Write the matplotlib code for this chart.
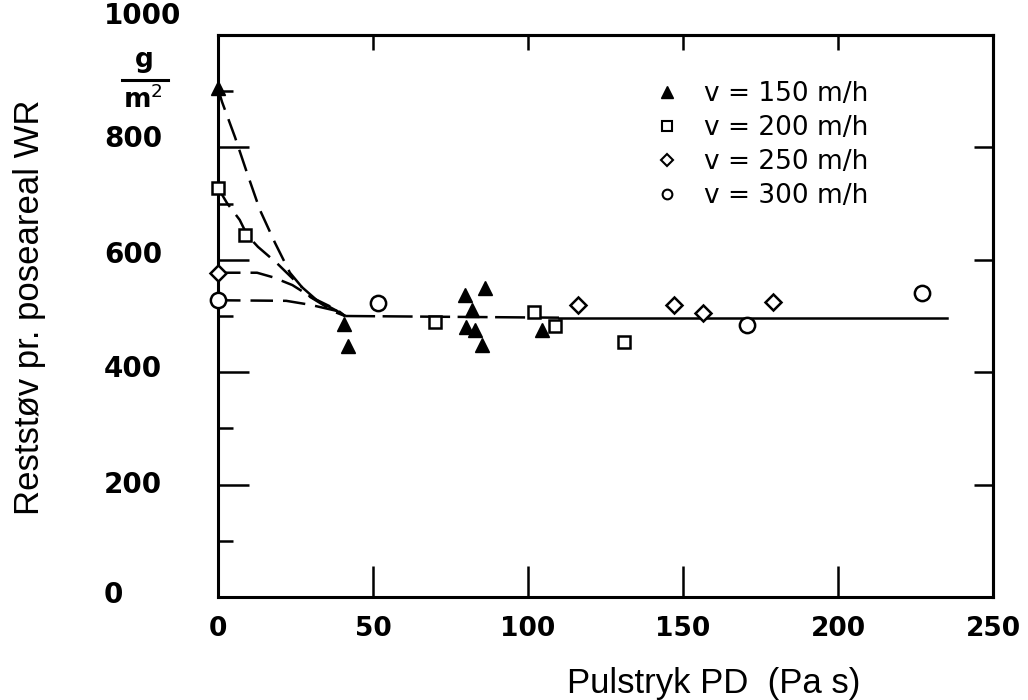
import matplotlib
matplotlib.use("Agg")
import matplotlib.pyplot as plt
import matplotlib.transforms as mtransforms
from matplotlib.lines import Line2D

# measured points, Pulstryk PD (Pa s) vs reststøv (g/m2)
tri_x = [0, 40.5, 42, 79.7, 86, 82, 80, 83, 85, 104.5]
tri_y = [905, 485, 447, 537, 550, 511, 480, 475, 448, 475]
sq_x = [0, 8.7, 70, 102, 108.7, 131]
sq_y = [728, 644, 489, 507, 482, 454]
dia_x = [0, 116, 147, 156.5, 179]
dia_y = [577, 520, 520, 505, 525]
circ_x = [0, 51.6, 170.6, 227]
circ_y = [528, 523, 484, 541]

# dashed fit curves
tri_curve_x = [0, 1.3, 5.5, 9.4, 13.5, 18.4, 23.2, 29.7, 37.7, 41]
tri_curve_y = [905, 881, 818, 754, 689, 630, 577, 534, 507, 500]
sq_curve_x = [0, 2.9, 7, 9.4, 12.9, 19, 25.5, 31.9, 38.4, 41]
sq_curve_y = [728, 701, 671, 644, 623, 594, 559, 528, 509, 500]
dia_curve_x = [0, 12.6, 17.7, 24, 30.6, 38.4, 41]
dia_curve_y = [577, 577, 569, 555, 532, 511, 500]
circ_curve_x = [0, 22, 29.7, 38.4, 41]
circ_curve_y = [528, 527, 520, 509, 500]
fit_x = [41, 110, 235]
fit_y = [500, 497, 497]

labels = ["v = 150 m/h", "v = 200 m/h", "v = 250 m/h", "v = 300 m/h"]
xticks = [0, 50, 100, 150, 200, 250]
yticks = [0, 200, 400, 600, 800, 1000]

plt.rcParams['font.family'] = ['Liberation Sans', 'DejaVu Sans']

fig = plt.figure(figsize=(10.28, 7), dpi=100)
ax = fig.add_axes([218/1028, 1 - 597/700, 775/1028, 562/700])

dash = (0, (9, 4))
for cx, cy in [(tri_curve_x, tri_curve_y), (sq_curve_x, sq_curve_y),
               (dia_curve_x, dia_curve_y), (circ_curve_x, circ_curve_y)]:
    ax.plot(cx, cy, color='black', lw=1.8, linestyle=dash, zorder=2)
ax.plot(fit_x[:2], fit_y[:2], color='black', lw=1.8, linestyle=(0, (12, 3)), zorder=2)
ax.plot(fit_x[1:], fit_y[1:], color='black', lw=1.8, zorder=2)

ax.plot(tri_x, tri_y, '^', color='black', ms=10, ls='none', zorder=3, clip_on=False)
ax.plot(sq_x, sq_y, 's', mfc='white', mec='black', mew=1.8, ms=9, ls='none',
        zorder=3, clip_on=False)
ax.plot(dia_x, dia_y, 'D', mfc='white', mec='black', mew=1.8, ms=8, ls='none',
        zorder=3, clip_on=False)
ax.plot(circ_x, circ_y, 'o', mfc='white', mec='black', mew=1.8, ms=11, ls='none',
        zorder=3, clip_on=False)

ax.set_xlim(0, 250)
ax.set_ylim(0, 1000)
for s in ax.spines.values():
    s.set_linewidth(2.2)

tick_font = dict(family='DejaVu Sans', fontweight='bold', fontsize=19)
ax.set_xticks(xticks)
ax.set_xticklabels([str(t) for t in xticks], **tick_font)
ax.set_yticks(yticks)
ax.set_yticks([100, 300, 500, 700, 900], minor=True)
ax.set_yticklabels([str(t) for t in yticks], ha='left', family='DejaVu Sans',
                   fontweight='bold', fontsize=20)
ax.tick_params(axis='x', direction='in', length=22, width=1.8, pad=14)
ax.tick_params(axis='y', which='major', direction='in', length=22, width=1.8, pad=82)
ax.tick_params(axis='y', which='minor', direction='in', length=11, width=1.8)

# nudge y tick labels like the original
dy_px = [5, 3, 6, 8, 11, 22]
for lab, d in zip(ax.get_yticklabels(), dy_px):
    lab.set_transform(lab.get_transform() +
                      mtransforms.ScaledTranslation(0, d / 100, fig.dpi_scale_trans))

top = ax.secondary_xaxis('top')
top.set_xticks([50, 100, 150, 200])
top.tick_params(direction='in', length=11, width=1.8, labeltop=False)
top.spines['top'].set_linewidth(2.2)
right = ax.secondary_yaxis('right')
right.set_yticks([200, 400, 600, 800])
right.tick_params(direction='in', length=14, width=1.8, labelright=False)
right.spines['right'].set_linewidth(2.2)

ax.set_xlabel("Pulstryk PD  (Pa s)", fontsize=25)
ax.xaxis.set_label_coords(0.64, -0.125)
ax.set_ylabel("Reststøv pr. poseareal WR", fontsize=25)
ax.yaxis.set_label_coords(-0.222, 0.515)

# unit g/m2
fig.text(144/1028, 1 - 60/700, "g", family='DejaVu Sans', fontweight='bold',
         fontsize=19, ha='center', va='center')
fig.add_artist(Line2D([122/1028, 168/1028], [1 - 80/700, 1 - 80/700],
                      color='black', lw=2.2))
fig.text(143/1028, 1 - 100/700, "m$^2$", family='DejaVu Sans', fontweight='bold',
         fontsize=19, ha='center', va='center')

handles = [
    Line2D([], [], marker='^', color='black', ls='none', ms=8),
    Line2D([], [], marker='s', mfc='white', mec='black', mew=1.5, ls='none', ms=7),
    Line2D([], [], marker='D', mfc='white', mec='black', mew=1.5, ls='none', ms=6),
    Line2D([], [], marker='o', mfc='white', mec='black', mew=1.5, ls='none', ms=7),
]
ax.legend(handles, labels, loc='upper left', bbox_to_anchor=(0.532, 0.96),
          frameon=False, prop={'family': 'DejaVu Sans', 'size': 19},
          handletextpad=0.9, labelspacing=0.3, handlelength=1.0)

fig.savefig("out.png", dpi=100)
